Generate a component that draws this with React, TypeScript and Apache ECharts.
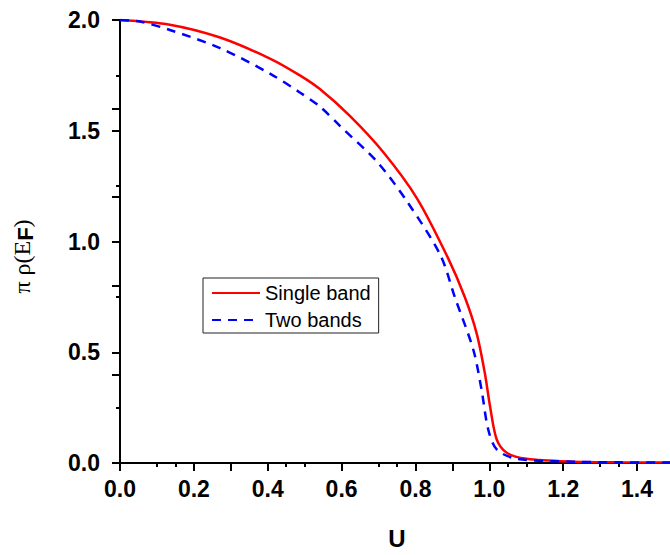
import React, { useEffect, useRef } from "react";
import * as echarts from "echarts";

const U_SINGLE = [0, 0.135, 0.271, 0.406, 0.487, 0.542, 0.623, 0.712, 0.804, 0.888, 0.934, 0.966, 0.988, 1.002, 1.02, 1.047, 1.101, 1.227, 1.35, 1.5];
const RHO_SINGLE = [2.0, 1.979, 1.921, 1.826, 1.75, 1.687, 1.566, 1.405, 1.195, 0.926, 0.747, 0.583, 0.404, 0.255, 0.106, 0.046, 0.019, 0.006, 0.003, 0.002];

const U_TWO = [0, 0.054, 0.135, 0.271, 0.406, 0.487, 0.542, 0.596, 0.696, 0.777, 0.867, 0.907, 0.957, 0.979, 0.997, 1.02, 1.074, 1.227, 1.35, 1.5];
const RHO_TWO = [2.0, 1.993, 1.955, 1.873, 1.758, 1.673, 1.608, 1.521, 1.36, 1.181, 0.94, 0.747, 0.509, 0.33, 0.151, 0.061, 0.019, 0.006, 0.003, 0.002];

const X_TICKS = [0, 0.2, 0.4, 0.6, 0.8, 1.0, 1.2, 1.4];
const SERIES_NAMES = ["Single band", "Two bands"];

const SANS = '"Liberation Sans", Arial, Helvetica, sans-serif';
const SERIF = '"Liberation Serif", "Times New Roman", serif';

export default function App() {
  const ref = useRef<HTMLDivElement>(null);
  useEffect(() => {
    if (!ref.current) return;
    const chart = echarts.init(ref.current, null, { renderer: "svg" });
    const axisLine = { show: true, lineStyle: { color: "#000", width: 2 } };
    chart.setOption({
      animation: false,
      backgroundColor: "#fff",
      grid: { left: 120, right: 16, top: 20, bottom: 88, containLabel: false },
      legend: {
        orient: "vertical",
        left: 203,
        top: 278,
        data: SERIES_NAMES,
        itemWidth: 48,
        itemHeight: 14,
        itemGap: 7,
        padding: [5, 8, 3, 8],
        borderColor: "#222",
        borderWidth: 1,
        itemStyle: { opacity: 0 },
        textStyle: { fontFamily: SANS, fontSize: 20, color: "#000" },
      },
      xAxis: [
        {
          type: "value",
          position: "bottom",
          min: 0,
          max: 1.5,
          interval: 0.2,
          name: "U",
          nameLocation: "middle",
          nameGap: 63,
          nameTextStyle: { fontFamily: SANS, fontSize: 24, fontWeight: "bold", color: "#000" },
          axisLine,
          axisTick: { show: true, inside: false, length: 8, lineStyle: { color: "#000", width: 2 }, customValues: X_TICKS },
          minorTick: { show: true, splitNumber: 2, length: 4, lineStyle: { color: "#000", width: 2 } },
          axisLabel: {
            customValues: X_TICKS,
            margin: 14,
            fontFamily: SANS,
            fontSize: 23,
            fontWeight: "bold",
            color: "#000",
            formatter: (v: number) => v.toFixed(1),
          },
          splitLine: { show: false },
        },
        {
          type: "value",
          position: "top",
          min: 0,
          max: 1.5,
          interval: 0.3,
          axisLine,
          axisTick: { show: true, inside: true, length: 8, lineStyle: { color: "#000", width: 2 } },
          minorTick: { show: true, splitNumber: 2, length: 4, lineStyle: { color: "#000", width: 2 } },
          axisLabel: { show: false },
          splitLine: { show: false },
        },
      ],
      yAxis: [
        {
          type: "value",
          position: "left",
          min: 0,
          max: 2,
          interval: 0.5,
          name: "{s|π ρ(E}{f|F}{s|)}",
          nameLocation: "middle",
          nameGap: 84,
          nameRotate: 90,
          nameTextStyle: {
            color: "#000",
            padding: [0, 30, 0, 0],
            rich: {
              s: { fontFamily: SERIF, fontSize: 24, color: "#000" },
              f: { fontFamily: SANS, fontSize: 22, fontWeight: "bold", color: "#000", padding: [6, 0, 0, 0] },
            },
          },
          axisLine,
          axisTick: { show: true, inside: false, length: 8, lineStyle: { color: "#000", width: 2 } },
          minorTick: { show: true, splitNumber: 2, length: 4, lineStyle: { color: "#000", width: 2 } },
          axisLabel: {
            margin: 20,
            fontFamily: SANS,
            fontSize: 23,
            fontWeight: "bold",
            color: "#000",
            formatter: (v: number) => v.toFixed(1),
          },
          splitLine: { show: false },
        },
        {
          type: "value",
          position: "right",
          min: 0,
          max: 2,
          interval: 0.4,
          axisLine,
          axisTick: { show: true, inside: true, length: 8, lineStyle: { color: "#000", width: 2 } },
          axisLabel: { show: false },
          splitLine: { show: false },
        },
      ],
      series: [
        {
          name: SERIES_NAMES[0],
          type: "line",
          xAxisIndex: 0,
          yAxisIndex: 0,
          symbol: "none",
          smooth: 0.3,
          lineStyle: { color: "#ff0000", width: 2.5, type: "solid" },
          itemStyle: { color: "#ff0000" },
          data: U_SINGLE.map((u, i) => [u, RHO_SINGLE[i]]),
          z: 2,
        },
        {
          name: SERIES_NAMES[1],
          type: "line",
          xAxisIndex: 0,
          yAxisIndex: 0,
          symbol: "none",
          smooth: 0.3,
          lineStyle: { color: "#0000ff", width: 2.5, type: [9, 7] },
          itemStyle: { color: "#0000ff" },
          data: U_TWO.map((u, i) => [u, RHO_TWO[i]]),
          z: 3,
        },
      ],
    });
    return () => chart.dispose();
  }, []);
  return (
    <div style={{ position: "fixed", left: 0, top: 0, width: 670, height: 555, overflow: "hidden", background: "#fff" }}>
      <div ref={ref} style={{ width: 690, height: 555 }} />
    </div>
  );
}
